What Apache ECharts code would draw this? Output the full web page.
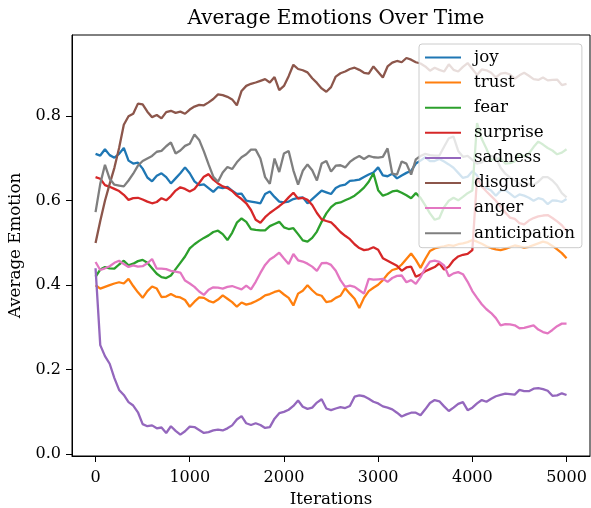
<!DOCTYPE html>
<html><head><meta charset="utf-8">
<script src="https://cdn.jsdelivr.net/npm/echarts@6/dist/echarts.min.js"></script>
<style>html,body{margin:0;padding:0;background:#fff}#c{width:591px;height:508px}</style>
</head><body><div id="c"></div>
<script>
const iterations = [0,50,100,150,200,250,300,350,400,450,500,550,600,650,700,750,800,850,900,950,
1000,1050,1100,1150,1200,1250,1300,1350,1400,1450,1500,1550,1600,1650,1700,1750,1800,1850,1900,1950,
2000,2050,2100,2150,2200,2250,2300,2350,2400,2450,2500,2550,2600,2650,2700,2750,2800,2850,2900,2950,
3000,3050,3100,3150,3200,3250,3300,3350,3400,3450,3500,3550,3600,3650,3700,3750,3800,3850,3900,3950,
4000,4050,4100,4150,4200,4250,4300,4350,4400,4450,4500,4550,4600,4650,4700,4750,4800,4850,4900,4950,5000];

const joy = [0.711,0.707,0.722,0.708,0.702,0.711,0.725,0.695,0.688,0.690,0.676,0.655,0.646,0.659,0.665,0.656,0.641,0.653,0.665,0.679,
0.665,0.646,0.637,0.639,0.630,0.621,0.632,0.630,0.633,0.624,0.616,0.617,0.600,0.598,0.596,0.594,0.616,0.622,0.609,0.598,
0.596,0.598,0.604,0.607,0.608,0.594,0.604,0.614,0.624,0.620,0.616,0.630,0.636,0.638,0.647,0.648,0.650,0.656,0.662,0.667,
0.679,0.660,0.658,0.664,0.653,0.660,0.666,0.671,0.688,0.695,0.703,0.694,0.694,0.699,0.693,0.686,0.678,0.666,0.654,0.657,
0.670,0.660,0.634,0.630,0.624,0.612,0.624,0.625,0.617,0.608,0.615,0.612,0.607,0.600,0.606,0.603,0.592,0.601,0.600,0.597,0.604];

const trust = [0.400,0.392,0.396,0.400,0.404,0.407,0.404,0.415,0.398,0.383,0.370,0.386,0.397,0.392,0.372,0.373,0.379,0.373,0.371,0.365,
0.349,0.361,0.371,0.370,0.363,0.359,0.366,0.376,0.368,0.360,0.349,0.359,0.354,0.357,0.362,0.368,0.376,0.379,0.384,0.387,
0.378,0.370,0.352,0.380,0.387,0.400,0.388,0.378,0.375,0.360,0.362,0.370,0.375,0.393,0.380,0.368,0.346,0.370,0.386,0.394,
0.401,0.412,0.426,0.436,0.439,0.449,0.462,0.475,0.460,0.441,0.462,0.481,0.487,0.490,0.492,0.495,0.493,0.497,0.499,0.502,
0.507,0.503,0.498,0.492,0.488,0.485,0.483,0.486,0.490,0.494,0.492,0.489,0.491,0.495,0.499,0.503,0.500,0.493,0.485,0.476,0.464];

const fear = [0.420,0.437,0.443,0.440,0.439,0.449,0.458,0.447,0.451,0.457,0.460,0.453,0.440,0.427,0.419,0.417,0.423,0.438,0.453,0.468,
0.487,0.497,0.505,0.512,0.518,0.526,0.529,0.521,0.507,0.524,0.548,0.558,0.550,0.533,0.531,0.530,0.530,0.540,0.545,0.550,
0.537,0.533,0.535,0.521,0.506,0.503,0.512,0.527,0.550,0.570,0.585,0.594,0.596,0.601,0.606,0.612,0.621,0.631,0.645,0.665,
0.625,0.612,0.616,0.622,0.624,0.619,0.613,0.606,0.618,0.607,0.589,0.570,0.555,0.559,0.585,0.600,0.607,0.601,0.609,0.618,
0.624,0.784,0.746,0.723,0.696,0.699,0.700,0.688,0.689,0.693,0.711,0.705,0.712,0.727,0.740,0.733,0.725,0.719,0.710,0.714,0.722];

const surprise = [0.656,0.652,0.637,0.633,0.628,0.623,0.614,0.602,0.606,0.607,0.603,0.598,0.594,0.597,0.606,0.601,0.611,0.624,0.632,0.628,
0.622,0.628,0.642,0.657,0.663,0.650,0.641,0.634,0.630,0.623,0.612,0.604,0.594,0.578,0.555,0.548,0.561,0.571,0.579,0.587,
0.596,0.608,0.619,0.605,0.607,0.602,0.590,0.571,0.556,0.552,0.549,0.538,0.526,0.517,0.509,0.497,0.488,0.483,0.485,0.490,
0.484,0.464,0.458,0.452,0.446,0.434,0.442,0.444,0.420,0.425,0.433,0.438,0.443,0.452,0.437,0.444,0.459,0.468,0.472,0.474,
0.483,0.655,0.634,0.622,0.611,0.600,0.586,0.572,0.560,0.557,0.547,0.544,0.553,0.559,0.563,0.565,0.566,0.559,0.551,0.542,0.529];

const sadness = [0.440,0.258,0.232,0.214,0.180,0.152,0.140,0.123,0.115,0.099,0.071,0.066,0.068,0.061,0.063,0.050,0.066,0.055,0.046,0.054,
0.065,0.064,0.057,0.050,0.052,0.056,0.058,0.056,0.061,0.068,0.082,0.090,0.073,0.069,0.073,0.069,0.062,0.064,0.084,0.097,
0.100,0.105,0.114,0.127,0.112,0.107,0.110,0.122,0.130,0.108,0.104,0.108,0.111,0.109,0.114,0.136,0.139,0.137,0.131,0.124,
0.120,0.113,0.110,0.106,0.098,0.089,0.094,0.098,0.098,0.092,0.106,0.121,0.128,0.125,0.113,0.102,0.110,0.119,0.123,0.104,
0.110,0.120,0.128,0.124,0.131,0.137,0.140,0.143,0.142,0.141,0.152,0.149,0.149,0.155,0.156,0.154,0.150,0.138,0.139,0.144,0.140];

const disgust = [0.500,0.552,0.600,0.640,0.678,0.725,0.780,0.800,0.806,0.830,0.828,0.811,0.798,0.803,0.795,0.810,0.813,0.808,0.811,0.806,
0.816,0.823,0.827,0.826,0.833,0.841,0.852,0.850,0.846,0.840,0.826,0.860,0.872,0.877,0.880,0.884,0.888,0.880,0.893,0.862,
0.872,0.895,0.922,0.912,0.909,0.904,0.890,0.879,0.866,0.858,0.869,0.894,0.902,0.906,0.912,0.915,0.910,0.903,0.901,0.918,
0.905,0.892,0.918,0.927,0.931,0.928,0.938,0.934,0.928,0.925,0.918,0.908,0.915,0.910,0.906,0.923,0.910,0.906,0.917,0.926,
0.912,0.898,0.911,0.909,0.903,0.892,0.901,0.903,0.899,0.889,0.897,0.903,0.896,0.888,0.886,0.892,0.885,0.886,0.887,0.874,0.877];

const anger = [0.455,0.436,0.440,0.445,0.453,0.458,0.450,0.443,0.447,0.444,0.445,0.452,0.462,0.439,0.439,0.438,0.434,0.432,0.430,0.411,
0.404,0.396,0.385,0.377,0.389,0.395,0.394,0.392,0.396,0.398,0.394,0.390,0.399,0.390,0.408,0.429,0.448,0.461,0.468,0.477,
0.463,0.450,0.474,0.459,0.456,0.451,0.444,0.434,0.452,0.453,0.448,0.434,0.412,0.396,0.399,0.396,0.388,0.380,0.415,0.413,
0.414,0.415,0.408,0.417,0.422,0.423,0.407,0.412,0.403,0.419,0.440,0.456,0.458,0.455,0.447,0.421,0.428,0.431,0.426,0.408,
0.386,0.370,0.355,0.343,0.334,0.322,0.305,0.308,0.307,0.305,0.298,0.299,0.302,0.305,0.295,0.289,0.286,0.294,0.303,0.309,0.309];

const anticipation = [0.573,0.640,0.685,0.652,0.638,0.636,0.634,0.648,0.664,0.683,0.694,0.700,0.706,0.716,0.718,0.729,0.738,0.712,0.719,0.730,
0.735,0.757,0.744,0.717,0.686,0.657,0.645,0.667,0.680,0.675,0.691,0.703,0.710,0.721,0.721,0.700,0.656,0.640,0.700,0.668,
0.712,0.718,0.672,0.638,0.671,0.686,0.672,0.648,0.688,0.694,0.669,0.683,0.684,0.679,0.692,0.700,0.706,0.699,0.706,0.703,
0.702,0.704,0.724,0.664,0.662,0.693,0.688,0.662,0.698,0.706,0.711,0.708,0.707,0.707,0.728,0.748,0.752,0.718,0.704,0.706,
0.697,0.688,0.691,0.701,0.706,0.702,0.678,0.664,0.655,0.649,0.640,0.633,0.640,0.637,0.645,0.656,0.656,0.648,0.636,0.618,0.608];

const seriesNames = ['joy','trust','fear','surprise','sadness','disgust','anger','anticipation'];
const seriesValues = [joy, trust, fear, surprise, sadness, disgust, anger, anticipation];
const colors = ['#1f77b4','#ff7f0e','#2ca02c','#d62728','#9467bd','#8c564b','#e377c2','#7f7f7f'];
const xTicks = [0,1000,2000,3000,4000,5000];
const yTicks = [0,0.2,0.4,0.6,0.8];

const font = 'DejaVu Serif';
const chart = echarts.init(document.getElementById('c'), null, {renderer:'canvas'});
chart.setOption({
  animation:false,
  backgroundColor:'#ffffff',
  color: colors,
  title:{text:'Average Emotions Over Time', left:331, top:4, textAlign:'center',
    textStyle:{fontFamily:font, fontSize:20, fontWeight:'normal', color:'#000'}},
  grid:{left:72, top:35, width:518, height:421, show:true, borderColor:'#000', borderWidth:1,
    containLabel:false, outerBoundsMode:'none'},
  legend:{orient:'vertical', left:419, top:44, icon:'rect', itemWidth:36, itemHeight:2, itemGap:8.1,
    padding:[5,7,6,6], backgroundColor:'rgba(255,255,255,0.8)', borderColor:'#cccccc', borderWidth:1, borderRadius:3,
    textStyle:{fontFamily:font, fontSize:16.7, color:'#000', lineHeight:17, padding:[0,0,0,8]},
    data: seriesNames},
  xAxis:{type:'value', min:-250, max:5249, name:'Iterations', nameLocation:'middle', nameGap:34,
    nameTextStyle:{fontFamily:font, fontSize:16.7, color:'#000'},
    axisLine:{show:true, onZero:false, lineStyle:{color:'#000', width:1}},
    axisTick:{show:true, inside:false, length:6, customValues:xTicks, lineStyle:{color:'#000'}},
    axisLabel:{customValues:xTicks, margin:14, fontFamily:font, fontSize:16, color:'#000', formatter:v=>String(v)},
    splitLine:{show:false}},
  yAxis:{type:'value', min:-0.0045, max:0.9925, name:'Average Emotion', nameLocation:'middle', nameGap:42,
    nameTextStyle:{fontFamily:font, fontSize:16.7, color:'#000'},
    axisLine:{show:true, onZero:false, lineStyle:{color:'#000', width:1}},
    axisTick:{show:true, inside:false, length:6, customValues:yTicks, lineStyle:{color:'#000'}},
    axisLabel:{customValues:yTicks, margin:11, fontFamily:font, fontSize:16, color:'#000', formatter:v=>v.toFixed(1)},
    splitLine:{show:false}},
  series: seriesNames.map((n,k)=>({
    name:n, type:'line', showSymbol:false, symbol:'none',
    data: iterations.map((x,i)=>[x, seriesValues[k][i]]),
    lineStyle:{width:2.3, color:colors[k]}, itemStyle:{color:colors[k]}, z:2
  }))
});
</script>
</body></html>
